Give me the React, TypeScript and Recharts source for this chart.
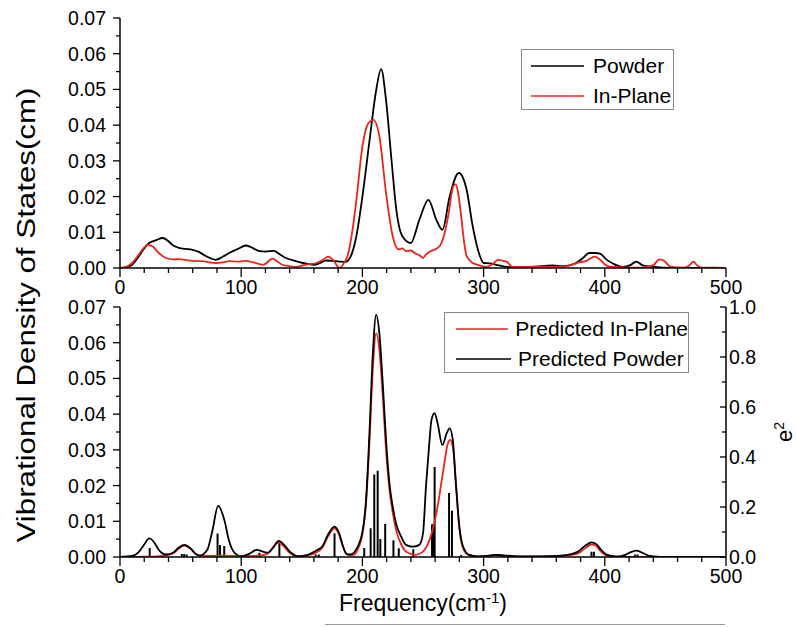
import React from "react";
import { ComposedChart, Line, XAxis, YAxis, ReferenceLine, Legend } from "recharts";

const BLACK = "#000000";
const RED = "#e8261c";
const FONT = '"Liberation Sans", Arial, sans-serif';

// measured spectra, top panel: [frequency, VDOS]
const powder: [number, number][] = [
  [0, 0], [5, 0.0002], [10, 0.0009], [15, 0.003], [20, 0.0055], [24, 0.007], [30, 0.0078], [35, 0.0084],
  [40, 0.0075], [43, 0.0065], [48, 0.0057], [52, 0.0054], [60, 0.0051], [65, 0.0045], [70, 0.0035],
  [75, 0.0027], [79, 0.0023], [85, 0.0032], [90, 0.0042], [97, 0.0053], [104, 0.0063], [110, 0.0055],
  [115, 0.0047], [120, 0.0046], [127, 0.0048], [132, 0.0038], [137, 0.0028], [145, 0.0019], [151, 0.0014],
  [160, 0.0009], [165, 0.0014], [170, 0.0021], [175, 0.002], [181, 0.0018], [186, 0.0017], [190, 0.003],
  [195, 0.0089], [200, 0.02], [206, 0.036], [211, 0.049], [215.5, 0.0557], [219.5, 0.047], [224, 0.0303],
  [228, 0.0163], [233, 0.0089], [240, 0.007], [247, 0.0135], [254.5, 0.0191], [261, 0.0135], [266, 0.0107],
  [272, 0.02], [279.5, 0.0266], [286, 0.0219], [291, 0.0117], [297, 0.0033], [300, 0.0014], [305, 0.0013],
  [310, 0.0009], [317, 0.0004], [325, 0.0002], [340, 0.0003], [357, 0.0007], [365, 0.0005], [375, 0.0012],
  [382, 0.0028], [387, 0.0042], [392, 0.0042], [396, 0.004], [402, 0.0022], [407, 0.0012], [415, 0.0003],
  [421, 0.0008], [426, 0.0018], [431, 0.0008], [435, 0.0005], [448, 0.0001], [460, 0], [500, 0],
];

const inPlane: [number, number][] = [
  [0, 0], [5, 0.0003], [10, 0.0014], [15, 0.0035], [20, 0.0058], [23, 0.0065], [27, 0.006], [32, 0.0042],
  [38, 0.0028], [44, 0.0024], [49, 0.0025], [55, 0.0022], [60, 0.002], [68, 0.0019], [75, 0.0015],
  [79, 0.0014], [85, 0.0016], [90, 0.0019], [98, 0.0018], [104, 0.002], [110, 0.0016], [118, 0.0009],
  [126, 0.0026], [130, 0.0018], [134, 0.0009], [140, 0.0005], [145, 0.0003], [153, 0.0009], [162, 0.0014],
  [167, 0.0022], [172, 0.0032], [176, 0.0022], [181, 0], [185, 0.0015], [188, 0.0037], [192, 0.011],
  [195, 0.019], [200, 0.034], [205, 0.0406], [209, 0.0415], [214, 0.0369], [219.5, 0.021], [225, 0.0089],
  [230, 0.0052], [233, 0.0055], [236, 0.0047], [240, 0.0049], [244, 0.004], [247, 0.0036], [250, 0.0028],
  [252, 0.0036], [256, 0.0047], [260, 0.0052], [264, 0.0062], [268, 0.01], [271, 0.015], [275, 0.0229],
  [277, 0.0234], [279, 0.021], [281.5, 0.0145], [284, 0.007], [286, 0.0033], [291, 0.0014], [296, 0.0008],
  [302, 0.0003], [307, 0.001], [312, 0.0023], [316, 0.002], [319, 0.0018], [324, 0.0003], [335, 0.0003],
  [346, 0.0004], [355, 0.0003], [365, 0.0004], [372, 0.0008], [379, 0.0016], [385, 0.002], [391.5, 0.0032],
  [396, 0.0024], [400, 0.001], [404, 0.0004], [415, 0.0002], [430, 0.0001], [440, 0.0008], [445, 0.0024],
  [449, 0.002], [454, 0.0004], [465, 0.0001], [470, 0.0008], [473, 0.0018], [476, 0.0008], [480, 0.0001],
  [490, 0.0001], [500, 0],
];

// predicted spectra, bottom panel
const predictedInPlane: [number, number][] = [
  [0, 0], [20, 0.0001], [30, 0.0002], [40, 0.0006], [45, 0.0013], [48, 0.0022], [53, 0.0032], [58, 0.0024],
  [62, 0.001], [66, 0.0004], [75, 0.0003], [85, 0.0004], [100, 0.0002], [110, 0.0003], [118, 0.0005],
  [124, 0.0016], [127, 0.003], [131, 0.004], [135, 0.003], [140, 0.0012], [146, 0.0002], [155, 0.0005],
  [162, 0.0013], [167, 0.0026], [172, 0.006], [177, 0.008], [181, 0.006], [184, 0.0028], [188, 0.0006],
  [192, 0.0005], [196, 0.002], [200.3, 0.007], [203, 0.015], [205.8, 0.032], [208.5, 0.052], [211.3, 0.0626],
  [214, 0.058], [216.8, 0.045], [219.5, 0.03], [222.3, 0.019], [225, 0.0125], [227.8, 0.0076], [232, 0.0035],
  [236, 0.0015], [241, 0.0008], [244, 0.0006], [247, 0.0009], [250, 0.0015], [255.4, 0.0048], [260.9, 0.012],
  [266.4, 0.0235], [270.5, 0.0318], [272.5, 0.0328], [275, 0.03], [277.4, 0.0198], [280.1, 0.0076],
  [283, 0.0025], [288, 0.0005], [295, 0.0001], [305, 0.0004], [310, 0.0005], [318, 0.0003], [330, 0.0001],
  [360, 0.0003], [370, 0.0005], [378, 0.001], [384, 0.0025], [389, 0.0035], [392, 0.0033], [396, 0.0018],
  [401, 0.0005], [410, 0.0001], [430, 0], [500, 0],
];

const predictedPowder: [number, number][] = [
  [0, 0], [10, 0.0003], [15, 0.0012], [20, 0.0035], [24, 0.0052], [28, 0.0042], [32, 0.002], [38, 0.0007],
  [44, 0.0012], [48, 0.0025], [53, 0.0034], [58, 0.0025], [62, 0.001], [66, 0.0004], [72, 0.002], [76, 0.007],
  [81, 0.0143], [86, 0.0105], [90, 0.0045], [95, 0.001], [100, 0.0002], [106, 0.0008], [113, 0.002],
  [118, 0.0015], [122, 0.0012], [126, 0.0025], [131, 0.0045], [136, 0.0032], [141, 0.0012], [148, 0.0002],
  [155, 0.0006], [162, 0.0018], [167, 0.003], [172, 0.0065], [177, 0.0085], [181, 0.0065], [184, 0.003],
  [187, 0.0008], [190, 0.0007], [195, 0.0022], [200.3, 0.0075], [203, 0.016], [205.8, 0.0346], [208.5, 0.0561],
  [211.3, 0.0678], [214, 0.0626], [216.8, 0.0486], [219.5, 0.0328], [222.3, 0.0206], [225, 0.0141],
  [227.8, 0.0094], [232, 0.0057], [236, 0.0034], [241.6, 0.0029], [247, 0.0034], [250, 0.0066], [252.5, 0.02],
  [255, 0.031], [257, 0.0384], [259.5, 0.0403], [262, 0.0375], [266, 0.0314], [269.5, 0.0346], [272, 0.036],
  [274.5, 0.033], [277, 0.021], [280, 0.0085], [283, 0.003], [288, 0.0006], [295, 0.0002], [305, 0.0004],
  [310, 0.0006], [318, 0.0004], [330, 0.0002], [350, 0.0002], [365, 0.0004], [372, 0.0008], [378, 0.0015],
  [384, 0.0032], [389, 0.0041], [393, 0.0036], [397, 0.002], [402, 0.0006], [410, 0.0001], [417, 0.0006],
  [421, 0.0013], [426, 0.0018], [431, 0.0012], [436, 0.0004], [442, 0.0001], [450, 0], [500, 0],
];

// calculated modes: [frequency, e^2]
const modes: [number, number][] = [
  [24.5, 0.036], [51, 0.012], [53, 0.012], [55, 0.01], [80.5, 0.094], [82.5, 0.048], [86, 0.044],
  [115, 0.017], [131.5, 0.061], [161.5, 0.01], [164, 0.01], [177, 0.095], [201.5, 0.036], [206.8, 0.115],
  [209.8, 0.33], [212.6, 0.345], [214.8, 0.072], [218.8, 0.132], [225.6, 0.067], [230, 0.035], [242, 0.031],
  [257.4, 0.13], [258, 0.13], [258.6, 0.13], [259.6, 0.36], [271.5, 0.256], [273.9, 0.185], [281.5, 0.008],
  [389, 0.021], [391, 0.021], [425, 0.01], [427, 0.01],
];

const freqTicks = [0, 20, 40, 60, 80, 100, 120, 140, 160, 180, 200, 220, 240, 260, 280, 300, 320, 340, 360, 380, 400, 420, 440, 460, 480, 500];
const vosTicks = [0, 0.005, 0.01, 0.015, 0.02, 0.025, 0.03, 0.035, 0.04, 0.045, 0.05, 0.055, 0.06, 0.065, 0.07];
const e2Ticks = [0, 0.1, 0.2, 0.3, 0.4, 0.5, 0.6, 0.7, 0.8, 0.9, 1.0];

const topLegend = [
  { name: "Powder", color: BLACK },
  { name: "In-Plane", color: RED },
];
const bottomLegend = [
  { name: "Predicted In-Plane", color: RED },
  { name: "Predicted Powder", color: BLACK },
];

const rows = (pts: [number, number][]) => pts.map(([f, v]) => ({ f, v }));

function FreqTick({ x, y, payload }: any) {
  const major = payload.value % 100 === 0;
  return (
    <g>
      <line x1={x} y1={y} x2={x} y2={y + (major ? 9 : 5)} stroke={BLACK} strokeWidth={1.3} />
      {major && (
        <text x={x} y={y + 12} dy="0.71em" textAnchor="middle" fontSize={19.5} fontFamily={FONT} fill={BLACK}>
          {payload.value}
        </text>
      )}
    </g>
  );
}

function VosTick({ x, y, payload }: any) {
  const major = Math.round(payload.value * 1000) % 10 === 0;
  return (
    <g>
      <line x1={x - (major ? 7 : 4)} y1={y} x2={x} y2={y} stroke={BLACK} strokeWidth={1.3} />
      {major && (
        <text x={x - 14} y={y} dy="0.36em" textAnchor="end" fontSize={19.5} fontFamily={FONT} fill={BLACK}>
          {payload.value.toFixed(2)}
        </text>
      )}
    </g>
  );
}

function E2Tick({ x, y, payload }: any) {
  const major = Math.round(payload.value * 10) % 2 === 0;
  return (
    <g>
      <line x1={x - (major ? 6 : 4)} y1={y} x2={x} y2={y} stroke={BLACK} strokeWidth={1.3} />
      {major && (
        <text x={x + 3} y={y} dy="0.36em" textAnchor="start" fontSize={19.5} fontFamily={FONT} fill={BLACK}>
          {payload.value.toFixed(1)}
        </text>
      )}
    </g>
  );
}

function LegendBox({ items, width, lineStart, lineEnd, gap }: any) {
  return (
    <div
      style={{
        width,
        height: 61,
        boxSizing: "border-box",
        border: "1px solid #8a8a8a",
        background: "#fff",
        paddingTop: 1,
      }}
    >
      {items.map((it: any) => (
        <div key={it.name} style={{ display: "flex", alignItems: "center", height: 30 }}>
          <svg width={lineEnd} height={30} style={{ display: "block" }}>
            <line x1={lineStart} x2={lineEnd} y1={15} y2={15} stroke={it.color} strokeWidth={1.6} />
          </svg>
          <span style={{ marginLeft: gap, fontSize: 21, fontFamily: FONT, lineHeight: "30px", color: BLACK, whiteSpace: "nowrap" }}>
            {it.name}
          </span>
        </div>
      ))}
    </div>
  );
}

function FreqLabel({ viewBox }: any) {
  const cx = viewBox.x + viewBox.width / 2;
  return (
    <text x={cx} y={viewBox.y + 46} dy="0.35em" textAnchor="middle" fontSize={23} fontFamily={FONT} fill={BLACK}>
      Frequency(cm
      <tspan dy={-8} fontSize={15}>-1</tspan>
      <tspan dy={8}>)</tspan>
    </text>
  );
}

function E2Label({ viewBox }: any) {
  const cx = viewBox.x + 58;
  const cy = viewBox.y + viewBox.height / 2;
  return (
    <text x={cx} y={cy} transform={`rotate(-90, ${cx}, ${cy})`} textAnchor="middle" dy="0.35em" fontSize={22} fontFamily={FONT} fill={BLACK}>
      e<tspan dy={-8} fontSize={14}>2</tspan>
    </text>
  );
}

const axisLine = { stroke: BLACK, strokeWidth: 1.5 };
const LW = 1.8;

export default function App() {
  return (
    <div style={{ position: "absolute", left: 0, top: 0, width: 797, height: 627, background: "#fff", overflow: "hidden" }}>
      <div style={{ position: "absolute", left: 0, top: 0 }}>
        <ComposedChart width={797} height={300} margin={{ top: 18, right: 71, bottom: 0, left: 60 }}>
          <XAxis
            dataKey="f"
            type="number"
            domain={[0, 500]}
            ticks={freqTicks}
            interval={0}
            tickSize={0}
            tickMargin={0}
            tickLine={false}
            tick={<FreqTick />}
            axisLine={axisLine}
            height={32}
            allowDataOverflow
          />
          <YAxis
            type="number"
            domain={[0, 0.07]}
            ticks={vosTicks}
            interval={0}
            tickSize={0}
            tickMargin={0}
            tickLine={false}
            tick={<VosTick />}
            axisLine={axisLine}
            width={60}
            allowDataOverflow
          />
          <Legend
            layout="horizontal"
            verticalAlign="middle"
            align="center"
            wrapperStyle={{ left: 521, top: 49, width: "auto" }}
            content={() => <LegendBox items={topLegend} width={153} lineStart={9} lineEnd={62} gap={9} />}
          />
          <Line data={rows(powder)} dataKey="v" name="Powder" type="monotone" stroke={BLACK} strokeWidth={LW} dot={false} activeDot={false} isAnimationActive={false} />
          <Line data={rows(inPlane)} dataKey="v" name="In-Plane" type="monotone" stroke={RED} strokeWidth={LW} dot={false} activeDot={false} isAnimationActive={false} />
        </ComposedChart>
      </div>

      <div style={{ position: "absolute", left: 0, top: 289 }}>
        <ComposedChart width={797} height={338} margin={{ top: 18, right: 0, bottom: 38, left: 60 }}>
          <XAxis
            dataKey="f"
            type="number"
            domain={[0, 500]}
            ticks={freqTicks}
            interval={0}
            tickSize={0}
            tickMargin={0}
            tickLine={false}
            tick={<FreqTick />}
            axisLine={axisLine}
            height={32}
            allowDataOverflow
            label={<FreqLabel />}
          />
          <YAxis
            yAxisId="vos"
            type="number"
            domain={[0, 0.07]}
            ticks={vosTicks}
            interval={0}
            tickSize={0}
            tickMargin={0}
            tickLine={false}
            tick={<VosTick />}
            axisLine={axisLine}
            width={60}
            allowDataOverflow
          />
          <YAxis
            yAxisId="e2"
            orientation="right"
            type="number"
            domain={[0, 1]}
            ticks={e2Ticks}
            interval={0}
            tickSize={0}
            tickMargin={0}
            tickLine={false}
            tick={<E2Tick />}
            axisLine={axisLine}
            width={71}
            allowDataOverflow
            label={<E2Label />}
          />
          <Legend
            layout="horizontal"
            verticalAlign="middle"
            align="center"
            wrapperStyle={{ left: 444, top: 23, width: "auto" }}
            content={() => <LegendBox items={bottomLegend} width={245} lineStart={11} lineEnd={66} gap={7} />}
          />
          {modes.map(([f, e2]) => (
            <ReferenceLine
              key={f}
              yAxisId="e2"
              segment={[{ x: f, y: 0 }, { x: f, y: e2 }]}
              stroke={BLACK}
              strokeWidth={2}
            />
          ))}
          <Line yAxisId="vos" data={rows(predictedInPlane)} dataKey="v" name="Predicted In-Plane" type="monotone" stroke={RED} strokeWidth={LW} dot={false} activeDot={false} isAnimationActive={false} />
          <Line yAxisId="vos" data={rows(predictedPowder)} dataKey="v" name="Predicted Powder" type="monotone" stroke={BLACK} strokeWidth={LW} dot={false} activeDot={false} isAnimationActive={false} />
        </ComposedChart>
      </div>

      <svg width={60} height={627} style={{ position: "absolute", left: 0, top: 0 }}>
        <text
          x={26}
          y={315}
          transform="rotate(-90, 26, 315)"
          textAnchor="middle"
          dy="0.35em"
          fontSize={25}
          textLength={455}
          lengthAdjust="spacingAndGlyphs"
          fontFamily={FONT}
          fill={BLACK}
        >
          Vibrational Density of States(cm)
        </text>
      </svg>
      <div style={{ position: "absolute", left: 325, top: 624, width: 400, height: 1, background: "#9a9a9a" }} />
    </div>
  );
}
